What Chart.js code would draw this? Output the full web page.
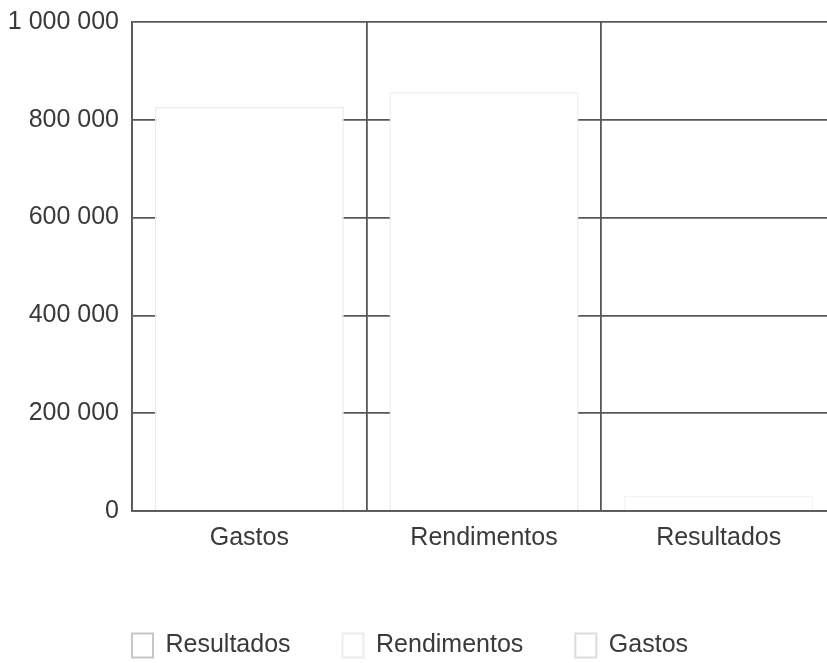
<!DOCTYPE html>
<html>
<head>
<meta charset="utf-8">
<script src="https://cdn.jsdelivr.net/npm/chart.js@4/dist/chart.umd.min.js"></script>
<style>
  html, body { margin: 0; padding: 0; background: #ffffff; overflow: hidden; width: 827px; height: 663px; }
  #wrap { position: absolute; left: 0; top: 0; width: 836px; height: 668px; }
</style>
</head>
<body>
<div id="wrap"><canvas id="c" width="836" height="668"></canvas></div>
<script>
const categories = ['Gastos', 'Rendimentos', 'Resultados'];
const seriesNames = ['Resultados', 'Rendimentos', 'Gastos'];
const resultadosValues = [null, null, 31000];
const rendimentosValues = [null, 857000, null];
const gastosValues = [826000, null, null];
const yTickValues = [0, 200000, 400000, 600000, 800000, 1000000];

function fmt(v) {
  return String(v).replace(/\B(?=(\d{3})+(?!\d))/g, ' ');
}

const legendShift = {
  id: 'legendShift',
  afterLayout(chart) {
    if (chart.legend) { chart.legend.left -= 8; chart.legend.right -= 8; }
  }
};

const font = { family: "'Liberation Sans', Arial, sans-serif", size: 25 };
const textColor = '#3a3a3a';
const lineColor = '#585858';
const legendStroke = ['#c6c6c6', '#ececec', '#dcdcdc'];

new Chart(document.getElementById('c'), {
  type: 'bar',
  data: {
    labels: categories,
    datasets: [
      { label: seriesNames[0], data: resultadosValues, backgroundColor: '#ffffff', borderColor: '#f3f3f3', borderWidth: 1.5 },
      { label: seriesNames[1], data: rendimentosValues, backgroundColor: '#ffffff', borderColor: '#efefef', borderWidth: 1.5 },
      { label: seriesNames[2], data: gastosValues, backgroundColor: '#ffffff', borderColor: '#ebebeb', borderWidth: 1.5 }
    ]
  },
  plugins: [legendShift],
  options: {
    responsive: false,
    animation: false,
    devicePixelRatio: 1,
    layout: { padding: { top: 22, left: 0, right: 0, bottom: 0 } },
    datasets: { bar: { categoryPercentage: 0.9, barPercentage: 0.895 } },
    plugins: {
      tooltip: { enabled: false },
      legend: {
        position: 'bottom',
        labels: {
          font: font, color: textColor, boxWidth: 21, boxHeight: 24, padding: 52,
          generateLabels(chart) {
            const items = Chart.defaults.plugins.legend.labels.generateLabels(chart);
            items.forEach((it, i) => { it.strokeStyle = legendStroke[i]; it.fillStyle = '#ffffff'; it.lineWidth = 2; });
            return items;
          }
        }
      }
    },
    scales: {
      x: {
        stacked: true,
        z: 1,
        grid: { display: true, offset: true, color: lineColor, lineWidth: 1.8, drawTicks: false },
        border: { display: true, color: lineColor, width: 1.8 },
        ticks: { font: font, color: textColor, padding: 12 },
        afterFit(s) { s.height = 70; s.paddingLeft = 0; s.paddingRight = 0; }
      },
      y: {
        stacked: true,
        min: 0,
        max: 1000000,
        afterBuildTicks(s) { s.ticks = yTickValues.map(v => ({ value: v })); },
        grid: { color: lineColor, lineWidth: 1.8, drawTicks: false },
        border: { display: true, color: lineColor, width: 1.8 },
        ticks: { font: font, color: textColor, padding: 13, callback: v => fmt(v) },
        afterFit(s) { s.width = 132; s.paddingTop = 0; s.paddingBottom = 0; }
      }
    }
  }
});
</script>
</body>
</html>
